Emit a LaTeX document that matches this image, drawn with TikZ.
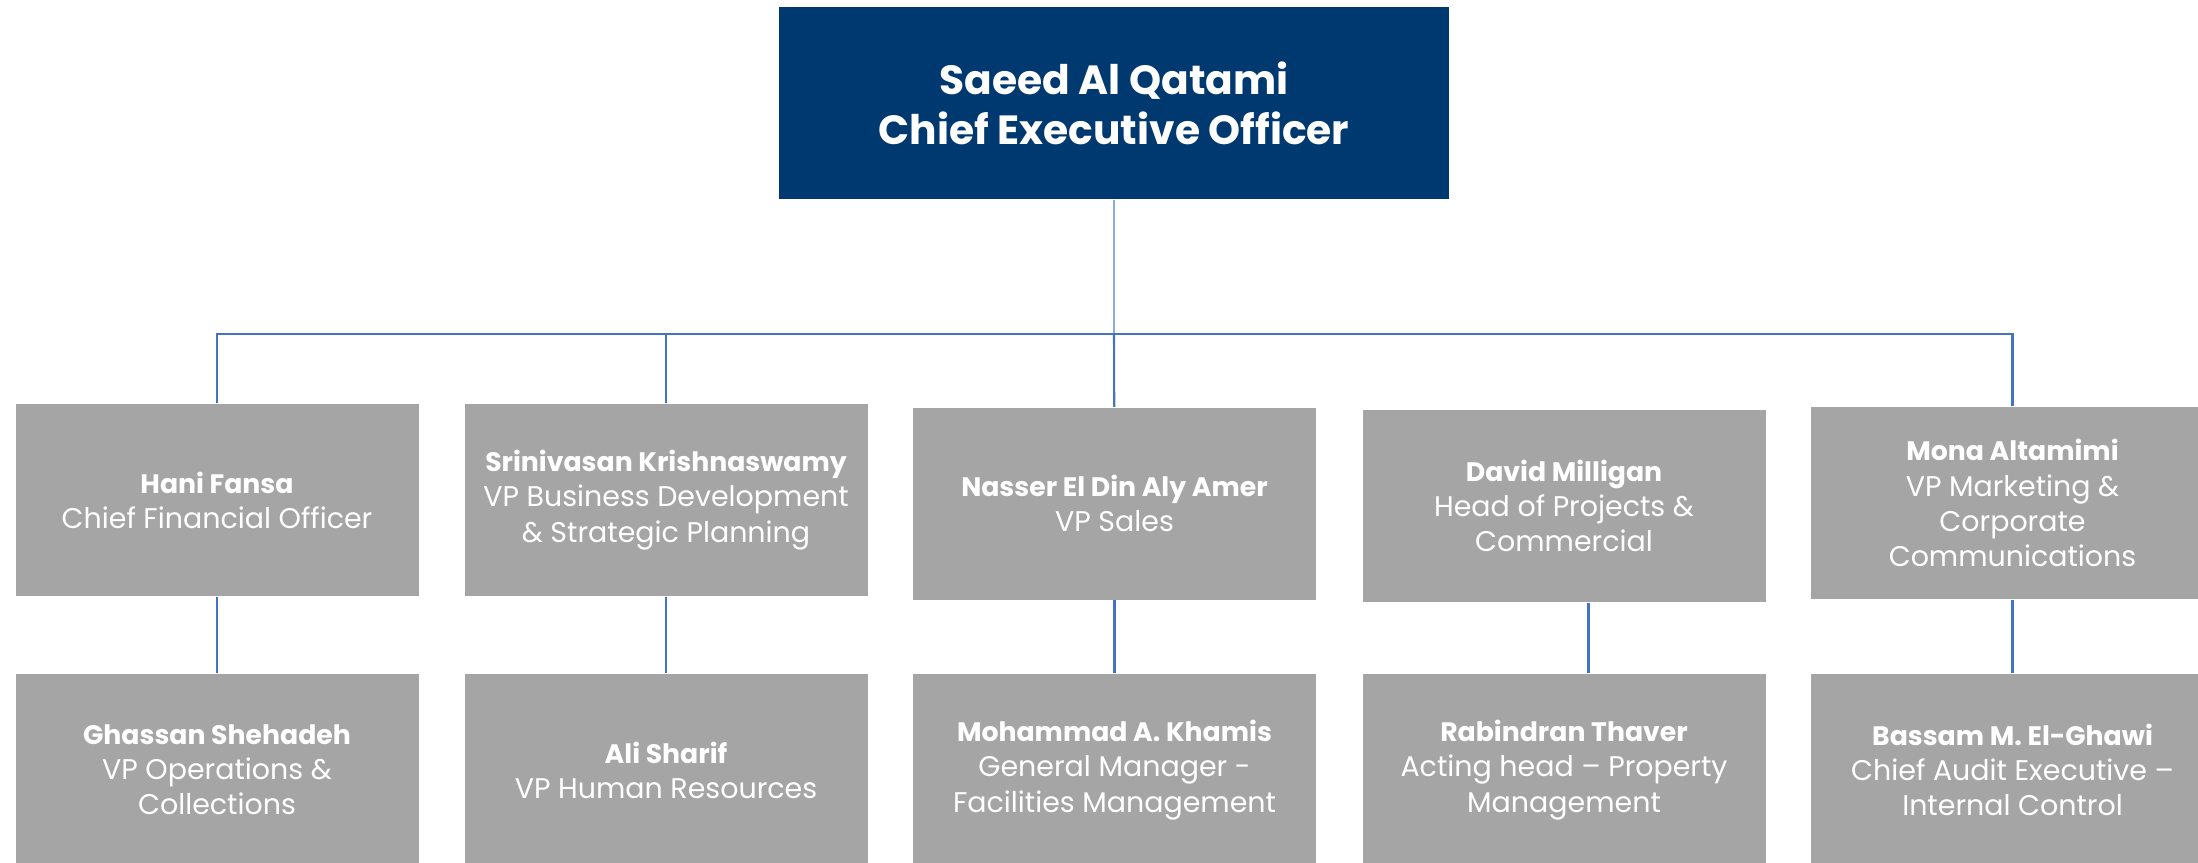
\documentclass[tikz,border=0pt]{standalone}
\usepackage{fontspec}
\setmainfont{Poppins}
\usetikzlibrary{positioning}

\definecolor{ceonavy}{HTML}{003870}
\definecolor{staffgray}{HTML}{A5A5A5}
\definecolor{linkblue}{HTML}{4472C4}
\definecolor{linkpale}{HTML}{8FAADC}

\newcommand{\staffname}[1]{{\fontsize{7.6}{10}\selectfont\bfseries #1}}

\begin{document}
\begin{tikzpicture}[
        ceobox/.style={fill=ceonavy, text=white, minimum width=6.70cm, minimum height=1.92cm,
            align=center, font=\fontsize{11.6}{14.2}\selectfont\bfseries},
        staffbox/.style={fill=staffgray, text=white, minimum width=4.03cm, minimum height=1.92cm,
            align=center, font=\fontsize{8.1}{10}\selectfont},
        link/.style={draw=linkblue, line width=0.6pt}]
        \useasboundingbox (0,0) rectangle (21.98,-8.62);
        % top
        \node[ceobox] (ceo) at (11.14,-1.03) {Saeed Al Qatami\\Chief Executive Officer};
        \coordinate (bus) at (0,-3.34);
        % first row
        \node[staffbox] (hani) at (2.17,-5.00) {\staffname{Hani Fansa}\\Chief Financial Officer};
        \node[staffbox] (srini) at (6.66,-5.00) {\staffname{Srinivasan Krishnaswamy}\\VP Business Development\\\& Strategic Planning};
        \node[staffbox] (nasser) at (11.145,-5.035) {\staffname{Nasser El Din Aly Amer}\\VP Sales};
        \node[staffbox] (david) at (15.64,-5.06) {\staffname{David Milligan}\\Head of Projects \&\\Commercial};
        \node[staffbox] (mona) at (20.125,-5.03) {\staffname{Mona Altamimi}\\VP Marketing \&\\Corporate\\Communications};
        % second row
        \node[staffbox] (ghassan) at (hani |- 0,-7.70) {\staffname{Ghassan Shehadeh}\\VP Operations \&\\Collections};
        \node[staffbox] (ali) at (srini |- 0,-7.70) {\staffname{Ali Sharif}\\VP Human Resources};
        \node[staffbox] (mohammad) at (nasser |- 0,-7.70) {\staffname{Mohammad A. Khamis}\\General Manager -\\Facilities Management};
        \node[staffbox] (rabindran) at (david |- 0,-7.70) {\staffname{Rabindran Thaver}\\Acting head -- Property\\Management};
        \node[staffbox] (bassam) at (mona |- 0,-7.70) {\staffname{Bassam M. El-Ghawi}\\Chief Audit Executive --\\Internal Control};
        % links
        \draw[link, draw=linkpale] (ceo) -- (ceo |- bus);
        \draw[link] (ceo |- bus) -- (nasser);
        \draw[link] (hani) -- (hani |- bus) -- (mona |- bus) -- (mona);
        \draw[link] (srini) -- (srini |- bus);
        \draw[link] (hani) -- (ghassan);
        \draw[link] (srini) -- (ali);
        \draw[link] (nasser) -- (mohammad);
        \draw[link] ([xshift=0.245cm]david.south) -- ([xshift=0.245cm]rabindran.north);
        \draw[link] (mona) -- (bassam);
    \end{tikzpicture}
\end{document}
